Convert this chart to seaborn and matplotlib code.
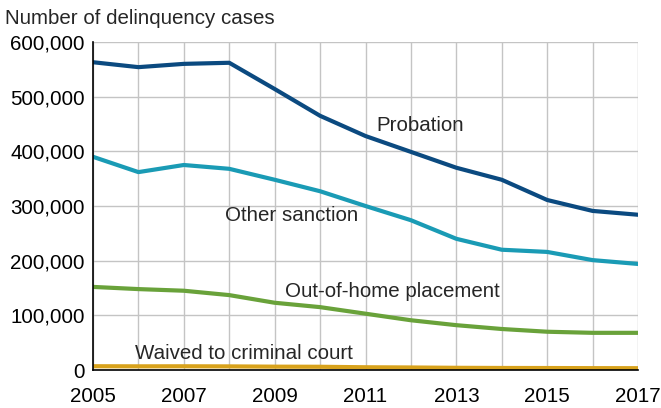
import pandas as pd
import numpy as np
import seaborn as sns
import matplotlib.pyplot as plt
import matplotlib.ticker as mticker

years = list(range(2005, 2018))
probation = [563000, 554000, 560000, 562000, 514000, 465000, 428000, 399000, 370000, 348000, 311000, 291000, 284000]
other_sanction = [390000, 362000, 375000, 368000, 348000, 327000, 300000, 274000, 240000, 220000, 216000, 201000, 194000]
out_of_home = [152000, 148000, 145000, 137000, 123000, 115000, 103000, 91000, 82000, 75000, 70000, 68000, 68000]
waived = [6900, 6700, 6800, 6600, 6100, 5900, 5000, 4600, 4000, 3700, 3600, 3400, 3300]

series_names = ["Probation", "Other sanction", "Out-of-home placement", "Waived to criminal court"]
colors = ["#0b4a80", "#1a9bb5", "#69a23a", "#d8a21c"]

data = pd.DataFrame({
    "year": years * 4,
    "cases": probation + other_sanction + out_of_home + waived,
    "series": np.repeat(series_names, len(years)),
})

sns.set_style("white")
plt.rcParams['font.family'] = ['Liberation Sans', 'DejaVu Sans']
fs = 14.8

fig = plt.figure(figsize=(6.61, 4.08), dpi=100)
ax = fig.add_axes([93 / 661, 1 - 370 / 408, (638 - 93) / 661, (370 - 42) / 408])

sns.lineplot(data=data, x="year", y="cases", hue="series", palette=colors,
             hue_order=series_names, linewidth=3, legend=False, ax=ax, zorder=3)

ax.set_xlim(2005, 2017)
ax.set_ylim(0, 600000)
ax.set_xticks(range(2005, 2018))
ax.set_xticklabels([str(y) if (y - 2005) % 2 == 0 else "" for y in years])
ax.set_yticks(range(0, 600001, 100000))
ax.yaxis.set_major_formatter(mticker.FuncFormatter(lambda v, p: f"{int(v):,}"))
ax.grid(True, color="#c4c4c4", linewidth=1)
ax.set_axisbelow(True)

for s in ["top", "right"]:
    ax.spines[s].set_visible(False)
for s in ["left", "bottom"]:
    ax.spines[s].set_color("black")
    ax.spines[s].set_linewidth(1.2)
    ax.spines[s].set_zorder(4)

ax.tick_params(axis="both", labelsize=fs, colors="black", width=1, direction="out")
ax.tick_params(axis="x", pad=8, length=4)
ax.tick_params(axis="y", pad=3, length=3)
ax.set_xlabel("")
ax.set_ylabel("")

ax.text(2011.25, 448000, "Probation", fontsize=fs, va="center", ha="left")
ax.text(2007.9, 283000, "Other sanction", fontsize=fs, va="center", ha="left")
ax.text(2009.23, 143000, "Out-of-home placement", fontsize=fs, va="center", ha="left")
ax.text(2005.92, 31000, "Waived to criminal court", fontsize=fs, va="center", ha="left")

fig.text(5 / 661, 1 - 18 / 408, "Number of delinquency cases", fontsize=fs, va="center", ha="left")

fig.savefig("out.png", dpi=100)
